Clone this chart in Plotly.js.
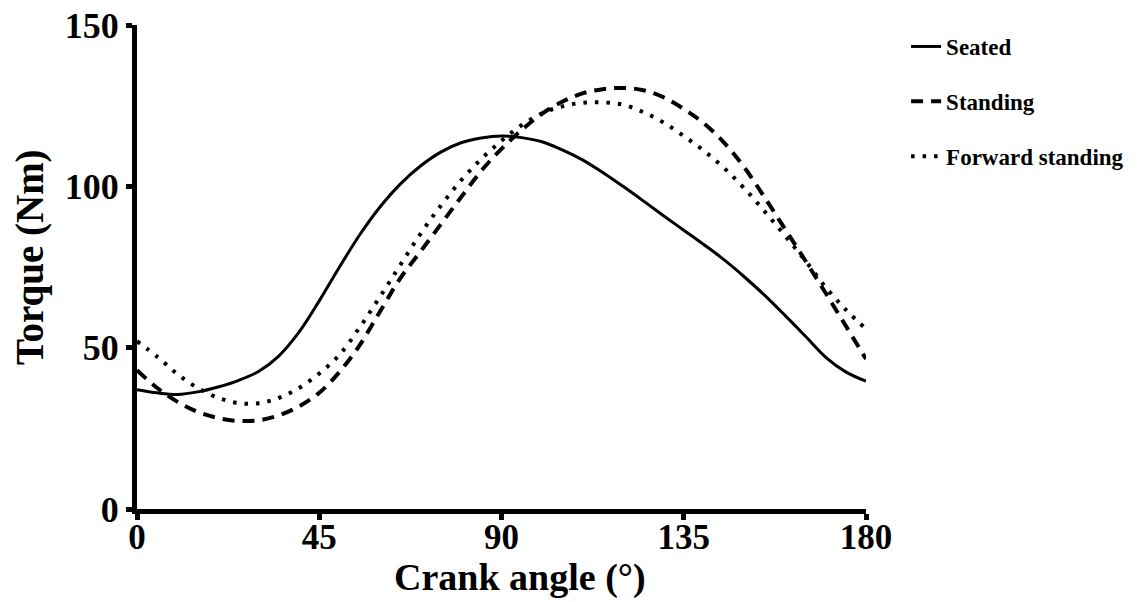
<!DOCTYPE html>
<html>
<head>
<meta charset="utf-8">
<script src="https://cdn.plot.ly/plotly-3.0.1.min.js"></script>
<style>html,body{margin:0;padding:0;background:#fff;}#chart{width:1145px;height:602px;}</style>
</head>
<body>
<div id="chart"></div>
<script>
const angles = [0,5,10,15,20,25,30,35,40,45,50,55,60,65,70,75,80,85,90,95,100,105,110,115,120,125,130,135,140,145,150,155,160,165,170,175,180];
const seated = [37,36,35.5,36.3,37.8,39.8,42.6,47.4,54.8,64.5,75,85,93.6,100.7,106.3,110.6,113.5,115,115.6,115.1,113.8,111.3,108.2,104.3,100,95.5,90.9,86.4,81.9,77.2,71.9,66.2,60,53.6,47.1,42.5,39.6];
const standing = [43,37.5,33.2,30.1,28.2,27.3,27.5,29,31.8,36,42.5,50.8,61.2,71.5,79.8,88.2,96.6,104.8,111.6,117.5,122.5,126.2,128.8,130.1,130.5,129.8,127.6,124,119.5,113.5,105.8,96.5,86.8,77,67,56.8,46.5];
const forward = [52,47.2,41.8,37.5,34.5,32.8,32.8,34.4,37.5,42,47.8,56.3,65.8,75.6,85.3,94,101.8,108.5,114.1,119,122.6,124.8,125.9,126,125.3,123,119.8,115.6,111,105.6,99.3,92.2,84.7,77,68.8,61.8,55.8];
const seriesNames = ["Seated","Standing","Forward standing"];
const xTicks = [0,45,90,135,180];
const yTicks = [0,50,100,150];
const xTitle = "Crank angle (°)";
const yTitle = "Torque (Nm)";

const F = "Liberation Serif, Times New Roman, serif";
const traces = [
  {x: angles, y: seated, name: seriesNames[0], legendgroup: "a", mode: "lines", line: {color: "#000", width: 3, shape: "spline", smoothing: 1}},
  {x: angles, y: standing, name: seriesNames[1], legendgroup: "b", mode: "lines", line: {color: "#000", width: 4, dash: "12px,8px", shape: "spline", smoothing: 1}},
  {x: angles, y: forward, name: seriesNames[2], legendgroup: "c", mode: "lines", line: {color: "#000", width: 4, dash: "3.5px,8px", shape: "spline", smoothing: 1}}
];
const layout = {
  width: 1145, height: 602,
  margin: {l: 137, r: 279, t: 25, b: 93},
  paper_bgcolor: "#fff", plot_bgcolor: "#fff",
  font: {family: F, color: "#000", weight: 700},
  showlegend: true,
  legend: {x: 1.055, y: 1.0, xanchor: "left", yanchor: "top", font: {family: F, size: 23, weight: 700, color: "#000"}, tracegroupgap: 22, traceorder: "grouped", itemwidth: 30, bgcolor: "rgba(0,0,0,0)"},
  xaxis: {
    range: [0, 180], tickvals: xTicks, ticktext: xTicks.map(String),
    showline: true, linecolor: "#000", linewidth: 5, mirror: false,
    ticks: "outside", ticklen: 6, tickwidth: 5, tickcolor: "#000",
    showgrid: false, zeroline: false, ticklabelstandoff: -13,
    tickfont: {family: F, size: 35, weight: 700, color: "#000"}
  },
  yaxis: {
    range: [0, 150], tickvals: yTicks, ticktext: yTicks.map(String),
    showline: true, linecolor: "#000", linewidth: 5,
    ticks: "outside", ticklen: 6, tickwidth: 5, tickcolor: "#000",
    showgrid: false, zeroline: false,
    tickfont: {family: F, size: 36, weight: 700, color: "#000"}
  },
  annotations: [
    {text: xTitle, xref: "paper", yref: "paper", x: (520-137)/729, y: (509-577)/484, xanchor: "center", yanchor: "middle", showarrow: false, font: {family: F, size: 38, weight: 700, color: "#000"}},
    {text: yTitle, xref: "paper", yref: "paper", x: (30-137)/729, y: (509-257)/484, xanchor: "center", yanchor: "middle", textangle: -90, showarrow: false, font: {family: F, size: 39, weight: 700, color: "#000"}}
  ]
};
Plotly.newPlot("chart", traces, layout, {displayModeBar: false, staticPlot: true});
</script>
</body>
</html>
